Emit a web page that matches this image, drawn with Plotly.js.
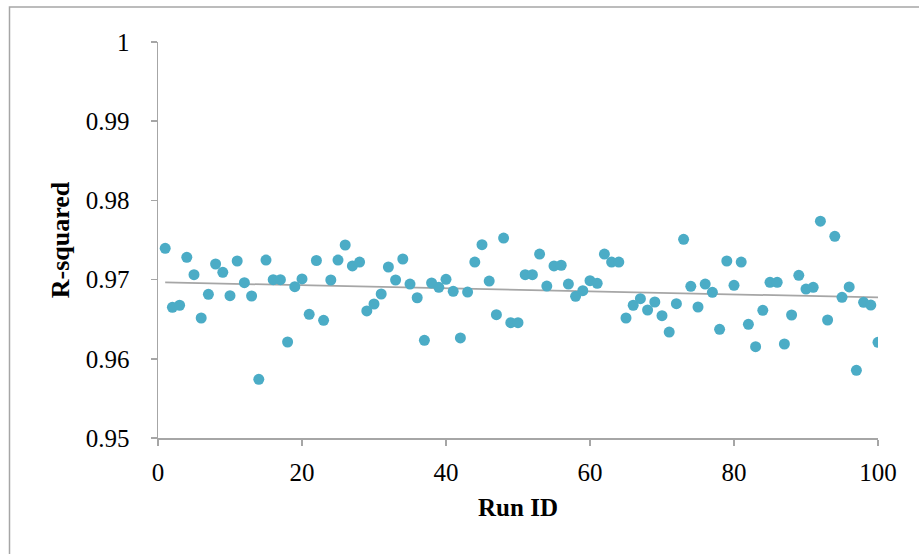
<!DOCTYPE html>
<html>
<head>
<meta charset="utf-8">
<script src="https://cdn.plot.ly/plotly-3.0.1.min.js"></script>
<style>
  html, body { margin: 0; padding: 0; background: #ffffff; }
  #chart { width: 919px; height: 554px; }
</style>
</head>
<body>
<div id="chart"></div>
<script>
// Run IDs 1..100
const runIds = [
  1,2,3,4,5,6,7,8,9,10,11,12,13,14,15,16,17,18,19,20,
  21,22,23,24,25,26,27,28,29,30,31,32,33,34,35,36,37,38,39,40,
  41,42,43,44,45,46,47,48,49,50,51,52,53,54,55,56,57,58,59,60,
  61,62,63,64,65,66,67,68,69,70,71,72,73,74,75,76,77,78,79,80,
  81,82,83,84,85,86,87,88,89,90,91,92,93,94,95,96,97,98,99,100
];
// R-squared values
const rSquared = [
  0.97395,0.9665,0.96676,0.97282,0.97062,0.96515,0.96814,0.97197,0.97092,0.96797,
  0.97235,0.96961,0.96793,0.95741,0.97247,0.96999,0.96999,0.96212,0.9691,0.97008,
  0.96562,0.97241,0.96486,0.96995,0.97247,0.97437,0.97172,0.97222,0.96604,0.96692,
  0.96818,0.97159,0.96995,0.9726,0.96944,0.96771,0.96233,0.96957,0.96903,0.97004,
  0.96852,0.96263,0.96843,0.97222,0.97441,0.96982,0.96557,0.97525,0.96456,0.96456,
  0.97062,0.97062,0.97323,0.96919,0.97172,0.97181,0.96944,0.96789,0.9686,0.96986,
  0.96953,0.97323,0.97222,0.97222,0.96515,0.96676,0.96759,0.96616,0.96717,0.96545,
  0.96338,0.96696,0.97508,0.96915,0.96654,0.96944,0.96839,0.96372,0.97235,0.96928,
  0.97222,0.96435,0.96153,0.96612,0.96966,0.96966,0.96187,0.96553,0.97054,0.96881,
  0.96903,0.97737,0.9649,0.97547,0.96776,0.96907,0.95855,0.96713,0.96679,0.96208
];
const xTickVals = [0, 20, 40, 60, 80, 100];
const yTickVals = [0.95, 0.96, 0.97, 0.98, 0.99, 1];
const yTickText = ["0.95", "0.96", "0.97", "0.98", "0.99", "1"];

// Linear trendline (least squares) from the data
const n = runIds.length;
let sx = 0, sy = 0, sxx = 0, sxy = 0;
for (let i = 0; i < n; i++) {
  sx += runIds[i]; sy += rSquared[i];
  sxx += runIds[i] * runIds[i]; sxy += runIds[i] * rSquared[i];
}
const slope = (n * sxy - sx * sy) / (n * sxx - sx * sx);
const intercept = (sy - slope * sx) / n;
const trendX = [runIds[0], runIds[n - 1]];
const trendY = trendX.map(x => intercept + slope * x);

const tickFont = { family: "Liberation Serif, Cambria, serif", size: 25, color: "#000000" };
const titleFont = { family: "Liberation Serif, Cambria, serif", size: 25, color: "#000000", weight: "bold" };

const traces = [
  {
    x: trendX, y: trendY, type: "scatter", mode: "lines",
    line: { color: "#a6a6a6", width: 1.75 }, hoverinfo: "skip", showlegend: false
  },
  {
    x: runIds, y: rSquared, type: "scatter", mode: "markers",
    marker: { color: "#4BACC6", size: 11, line: { width: 0 } }, showlegend: false
  }
];

const layout = {
  width: 919, height: 554,
  margin: { l: 158, r: 41, t: 42, b: 116 },
  paper_bgcolor: "#ffffff", plot_bgcolor: "#ffffff",
  showlegend: false,
  xaxis: {
    range: [0, 100], tickvals: xTickVals, ticks: "outside", ticklen: 6, tickwidth: 1.5,
    tickcolor: "#a6a6a6", showline: true, linecolor: "#a6a6a6", linewidth: 1.5,
    showgrid: false, zeroline: false, tickfont: tickFont, ticklabelstandoff: 5,
    title: { text: "Run ID", font: titleFont, standoff: 14 }
  },
  yaxis: {
    range: [0.95, 1], tickvals: yTickVals, ticktext: yTickText, ticks: "outside", ticklen: 6, tickwidth: 1.5,
    tickcolor: "#a6a6a6", showline: true, linecolor: "#a6a6a6", linewidth: 1.5,
    showgrid: false, zeroline: false, tickfont: tickFont, ticklabelstandoff: 16,
    title: { text: "R-squared", font: Object.assign({}, titleFont, { size: 26 }), standoff: 8 }
  },
  shapes: [
    {
      type: "rect", xref: "paper", yref: "paper",
      x0: (9.5 - 158) / 720, x1: 1.3, y0: -0.6, y1: (438 - 7) / 396,
      line: { color: "#a6a6a6", width: 1.5 }, fillcolor: "rgba(0,0,0,0)", layer: "below"
    }
  ]
};

Plotly.newPlot("chart", traces, layout, { staticPlot: true, displayModeBar: false });
</script>
</body>
</html>
